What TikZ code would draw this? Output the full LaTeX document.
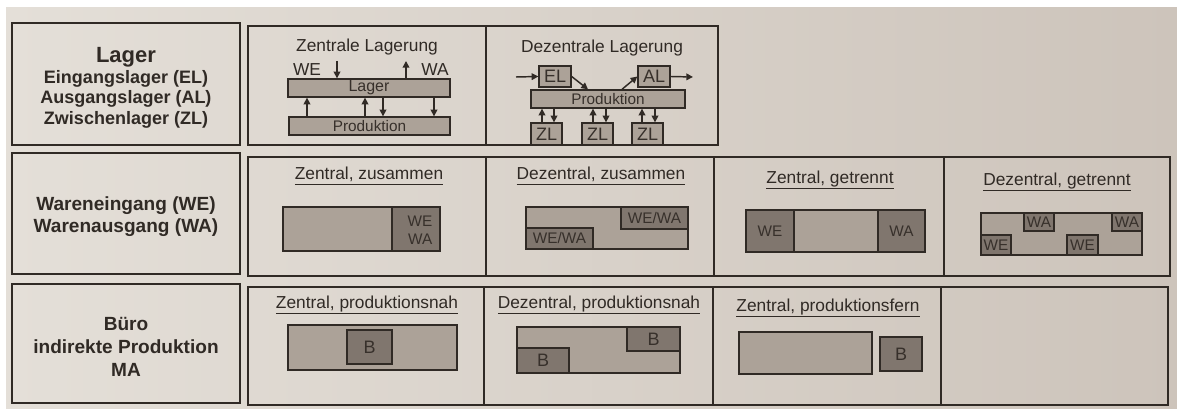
\documentclass[tikz,border=0pt]{standalone}
\usepackage{fontspec}
\setmainfont{Liberation Sans}
\usetikzlibrary{arrows.meta,fit}
\definecolor{paperL}{RGB}{228,223,216}
\definecolor{paperR}{RGB}{205,196,187}
\definecolor{ink}{RGB}{48,42,37}
\definecolor{lightfill}{RGB}{172,162,152}
\definecolor{darkfill}{RGB}{128,118,110}
\definecolor{boxtext}{RGB}{55,48,43}
\tikzset{
  cell/.style={draw=ink, line width=1.3pt, inner sep=0pt},
  lbox/.style={draw=ink, line width=1pt, fill=lightfill, inner sep=0pt},
  dbox/.style={draw=ink, line width=1pt, fill=darkfill, inner sep=0pt},
  boxlab/.style={text=boxtext, inner sep=0pt},
  lt/.style={label={[boxlab, font=\fontsize{12}{12}\selectfont]center:#1}},
  st/.style={label={[boxlab, font=\fontsize{11.5}{12}\selectfont]center:#1}},
  mt/.style={label={[boxlab, font=\fontsize{13.5}{14}\selectfont]center:#1}},
  headtxt/.style={align=center, text=ink, inner sep=0pt},
  ttl/.style={text=ink, inner sep=0pt, font=\fontsize{13}{15}\selectfont},
  arr/.style={draw=ink, line width=1.1pt, -{Triangle[length=5pt,width=5pt]}},
  lbl/.style={text=ink, inner sep=0pt, font=\fontsize{13}{15}\selectfont}
}
\begin{document}
\begin{tikzpicture}[x=0.75pt,y=-0.75pt]
\useasboundingbox (0,0) rectangle (1177,409);
\fill[white] (0,0) rectangle (1177,409);
\shade[left color=paperL, right color=paperR] (6,8) rectangle (1177,409);

% ---------- left header cells ----------
\node[cell, fit={(12,23) (240,145)}] (h1) {};
\node[headtxt, font=\bfseries\fontsize{13.5}{15.5}\selectfont] (h1t) at (126,88) {{\fontsize{16.5}{20}\selectfont Lager}\\Eingangslager (EL)\\Ausgangslager (AL)\\Zwischenlager (ZL)};
\node[cell, fit={(12,153) (240,274)}] (h2) {};
\node[headtxt, font=\bfseries\fontsize{14.3}{16.5}\selectfont] (h2t) at (126,217) {Wareneingang (WE)\\Warenausgang (WA)};
\node[cell, fit={(12,284) (240,403)}] (h3) {};
\node[headtxt, font=\bfseries\fontsize{14.3}{17}\selectfont] (h3t) at (126,347) {Büro\\indirekte Produktion\\MA};

% ---------- row 1 cells ----------
\node[cell, fit={(248,26) (486,145)}] (c11) {};
\node[cell, fit={(486,26) (718,145)}] (c12) {};

% Zentrale Lagerung
\node[ttl] (t11) at (367,47) {Zentrale Lagerung};
\node[lbox, lt=Lager, fit={(288,79) (450,97)}] (zlager) {};
\node[lbox, st=Produktion, fit={(289,117) (450,135)}] (zprod) {};
\node[lbl] (we1) at (307,70) {WE};
\node[lbl] (wa1) at (435,70) {WA};
\coordinate (wein) at (337,61);
\coordinate (waout) at (406,61);
\draw[arr] (wein) -- (zlager.north -| wein);
\draw[arr] (zlager.north -| waout) -- (waout);
\draw[arr] (zprod.north -| 307,0) -- (zlager.south -| 307,0);
\draw[arr] (zprod.north -| 365,0) -- (zlager.south -| 365,0);
\draw[arr] (zlager.south -| 383,0) -- (zprod.north -| 383,0);
\draw[arr] (zlager.south -| 434,0) -- (zprod.north -| 434,0);

% Dezentrale Lagerung
\node[ttl] (t12) at (602,48) {Dezentrale Lagerung};
\node[lbox, mt=EL, fit={(539,66) (571,87)}] (el) {};
\node[lbox, mt=AL, fit={(638,66) (670,87)}] (al) {};
\node[lbox, st=Produktion, fit={(531,90) (685,108)}] (dprod) {};
\node[lbox, mt=ZL, fit={(531,123) (562,145)}] (zl1) {};
\node[lbox, mt=ZL, fit={(582,123) (613,145)}] (zl2) {};
\node[lbox, mt=ZL, fit={(632,123) (663,145)}] (zl3) {};
\coordinate (elin) at (516,77);
\coordinate (alout) at (693,77);
\draw[arr] (elin) -- (el.west);
\draw[arr] (al.east) -- (alout);
\draw[arr] (el.east) -- (dprod.north -| 588,0);
\draw[arr] (dprod.north -| 622,0) -- (al.west);
\draw[arr] (zl1.north -| 542,0) -- (dprod.south -| 542,0);
\draw[arr] (dprod.south -| 554,0) -- (zl1.north -| 554,0);
\draw[arr] (zl2.north -| 593,0) -- (dprod.south -| 593,0);
\draw[arr] (dprod.south -| 606,0) -- (zl2.north -| 606,0);
\draw[arr] (zl3.north -| 642,0) -- (dprod.south -| 642,0);
\draw[arr] (dprod.south -| 655,0) -- (zl3.north -| 655,0);

% ---------- row 2 cells ----------
\node[cell, fit={(248,157) (486,276)}] (c21) {};
\node[cell, fit={(486,157) (714,276)}] (c22) {};
\node[cell, fit={(714,157) (944,276)}] (c23) {};
\node[cell, fit={(944,157) (1170,276)}] (c24) {};

\node[ttl] (t21) at (369,176) {\underline{Zentral, zusammen}};
\node[ttl] (t22) at (601,176) {\underline{Dezentral, zusammen}};
\node[ttl] (t23) at (830,180) {\underline{Zentral, getrennt}};
\node[ttl] (t24) at (1057,182) {\underline{Dezentral, getrennt}};

% Zentral, zusammen
\node[lbox, fit={(283,207) (440,251)}] (zz) {};
\node[dbox, fit={(392,207) (440,251)}] (zzd) {};
\node[boxlab, font=\fontsize{11.5}{13.5}\selectfont, align=right] (zzt) at (420,230) {WE\\WA};

% Dezentral, zusammen
\node[lbox, fit={(526,207) (688,249)}] (dz) {};
\node[dbox, st=WE/WA, fit={(621,207) (688,229)}] (dz1) {};
\node[dbox, st=WE/WA, fit={(526,228) (593,249)}] (dz2) {};

% Zentral, getrennt
\node[lbox, fit={(746,210) (925,252)}] (zg) {};
\node[dbox, st=WE, fit={(746,210) (794,252)}] (zgwe) {};
\node[dbox, st=WA, fit={(878,210) (925,252)}] (zgwa) {};

% Dezentral, getrennt
\node[lbox, fit={(981,213) (1142,255)}] (dg) {};
\node[dbox, st=WA, fit={(1024,213) (1054,231)}] (dgwa1) {};
\node[dbox, st=WA, fit={(1112,213) (1142,231)}] (dgwa2) {};
\node[dbox, st=WE, fit={(981,235) (1011,255)}] (dgwe1) {};
\node[dbox, st=WE, fit={(1067,235) (1098,255)}] (dgwe2) {};

% ---------- row 3 cells ----------
\node[cell, fit={(248,287) (484,405)}] (c31) {};
\node[cell, fit={(484,287) (713,405)}] (c32) {};
\node[cell, fit={(713,287) (941,405)}] (c33) {};
\node[cell, fit={(941,287) (1168,405)}] (c34) {};

\node[ttl] (t31) at (367,305) {\underline{Zentral, produktionsnah}};
\node[ttl] (t32) at (599,305) {\underline{Dezentral, produktionsnah}};
\node[ttl] (t33) at (828,308) {\underline{Zentral, produktionsfern}};

% Zentral, produktionsnah
\node[lbox, fit={(288,325) (457,370)}] (zpn) {};
\node[dbox, mt=B, fit={(347,330) (392,364)}] (zpnb) {};

% Dezentral, produktionsnah
\node[lbox, fit={(517,327) (680,373)}] (dpn) {};
\node[dbox, mt=B, fit={(627,327) (680,351)}] (dpnb1) {};
\node[dbox, mt=B, fit={(517,348) (569,373)}] (dpnb2) {};

% Zentral, produktionsfern
\node[lbox, fit={(739,332) (872,374)}] (zpf) {};
\node[dbox, mt=B, fit={(880,337) (922,371)}] (zpfb) {};
\end{tikzpicture}
\end{document}
